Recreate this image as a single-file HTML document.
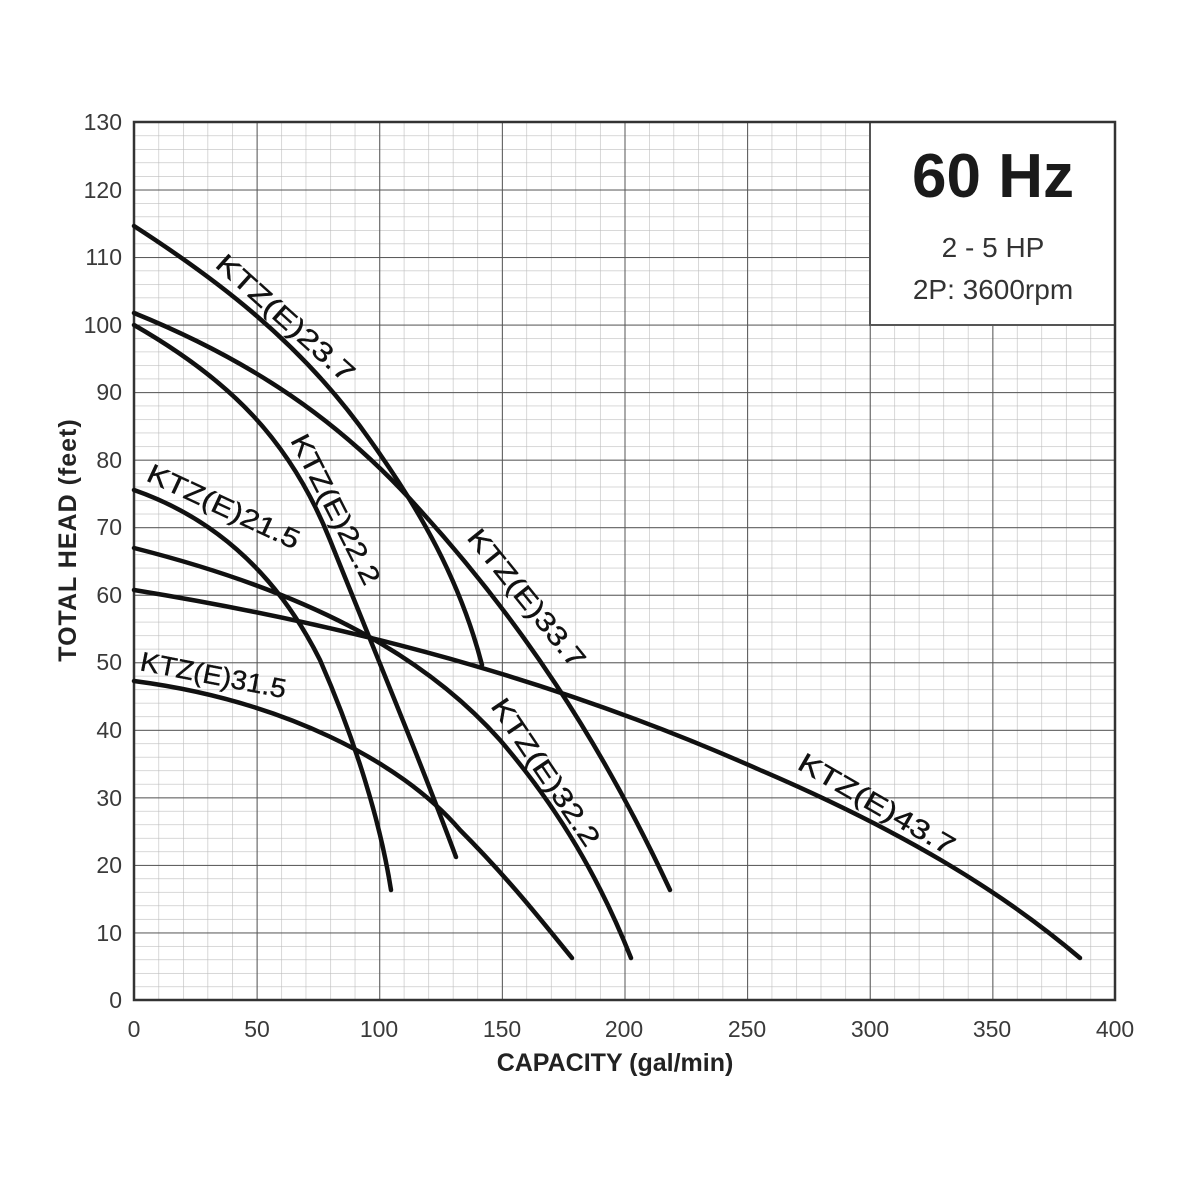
<!DOCTYPE html>
<html><head><meta charset="utf-8"><style>
html,body{margin:0;padding:0;background:#fff;}
svg{display:block;}
.t{font-family:"Liberation Sans",sans-serif;font-size:23px;fill:#3a3a3a;}
.lab{font-family:"Liberation Sans",sans-serif;font-size:27px;fill:#111;stroke:#111;stroke-width:0.4;}
.c{fill:none;stroke:#111;stroke-width:4.5;stroke-linecap:round;stroke-linejoin:round;}
</style></head><body>
<svg width="1200" height="1200" viewBox="0 0 1200 1200" xmlns="http://www.w3.org/2000/svg">
<defs>
<pattern id="mi" patternUnits="userSpaceOnUse" x="134" y="1000" width="24.525" height="13.508">
<path d="M0,0V13.508M0,0H24.525" stroke="#bdbdbd" stroke-width="1.2" fill="none"/>
</pattern>
<pattern id="ma" patternUnits="userSpaceOnUse" x="134" y="1000" width="122.625" height="67.54">
<path d="M0,0V67.54M0,0H122.625" stroke="#555" stroke-width="2" fill="none"/>
</pattern>
</defs>
<rect x="134" y="122" width="981" height="878" fill="url(#mi)"/>
<rect x="134" y="122" width="981" height="878" fill="url(#ma)"/>
<rect x="870" y="122" width="245" height="203" fill="#fff" stroke="#555" stroke-width="2"/>
<rect x="134" y="122" width="981" height="878" fill="none" stroke="#333" stroke-width="2.5"/>
<text x="993" y="197" text-anchor="middle" font-family="Liberation Sans,sans-serif" font-weight="bold" font-size="62" fill="#1a1a1a">60 Hz</text>
<text x="993" y="257" text-anchor="middle" font-family="Liberation Sans,sans-serif" font-size="28" fill="#333">2 - 5 HP</text>
<text x="993" y="299" text-anchor="middle" font-family="Liberation Sans,sans-serif" font-size="28" fill="#333">2P: 3600rpm</text>
<g class="t" text-anchor="end">
<text x="122" y="130">130</text><text x="122" y="198">120</text><text x="122" y="265">110</text>
<text x="122" y="333">100</text><text x="122" y="400">90</text><text x="122" y="468">80</text>
<text x="122" y="535">70</text><text x="122" y="603">60</text><text x="122" y="670">50</text>
<text x="122" y="738">40</text><text x="122" y="806">30</text><text x="122" y="873">20</text>
<text x="122" y="941">10</text><text x="122" y="1008">0</text>
</g>
<g class="t" text-anchor="middle">
<text x="134" y="1037">0</text><text x="257" y="1037">50</text><text x="379" y="1037">100</text>
<text x="502" y="1037">150</text><text x="624" y="1037">200</text><text x="747" y="1037">250</text>
<text x="870" y="1037">300</text><text x="992" y="1037">350</text><text x="1115" y="1037">400</text>
</g>
<text x="615" y="1071" text-anchor="middle" font-family="Liberation Sans,sans-serif" font-weight="bold" font-size="25" fill="#222">CAPACITY (gal/min)</text>
<text transform="translate(76,540) rotate(-90)" text-anchor="middle" font-family="Liberation Sans,sans-serif" font-weight="bold" font-size="25" fill="#222" letter-spacing="1">TOTAL HEAD (feet)</text>
<g class="c">
<path d="M134,226 C210,275 300,340 370,440 C420,510 460,580 482,665"/>
<path d="M134,313 C250,360 340,420 420,510 C520,620 600,740 670,890"/>
<path d="M134,325 C230,380 290,440 330,540 C370,640 420,760 456,857"/>
<path d="M134,490 C220,520 280,580 320,660 C355,740 380,820 391,890"/>
<path d="M134,548 C300,590 420,650 500,740 C560,810 600,880 631,958"/>
<path d="M134,590 C380,630 580,690 760,770 C900,830 1000,890 1080,958"/>
<path d="M134,681 C280,700 400,760 460,830 C510,880 545,925 572,958"/>
</g>
<g class="lab">
<text transform="translate(214,266) rotate(42)" textLength="176" lengthAdjust="spacingAndGlyphs">KTZ(E)23.7</text>
<text transform="translate(290,440) rotate(63)" textLength="165" lengthAdjust="spacingAndGlyphs">KTZ(E)22.2</text>
<text transform="translate(145,480) rotate(25)" textLength="165" lengthAdjust="spacingAndGlyphs">KTZ(E)21.5</text>
<text transform="translate(466,538) rotate(51)" textLength="170" lengthAdjust="spacingAndGlyphs">KTZ(E)33.7</text>
<text transform="translate(139,670) rotate(11)" textLength="148" lengthAdjust="spacingAndGlyphs">KTZ(E)31.5</text>
<text transform="translate(490,706) rotate(56)" textLength="172" lengthAdjust="spacingAndGlyphs">KTZ(E)32.2</text>
<text transform="translate(796,768) rotate(30)" textLength="176" lengthAdjust="spacingAndGlyphs">KTZ(E)43.7</text>
</g>
</svg>
</body></html>
